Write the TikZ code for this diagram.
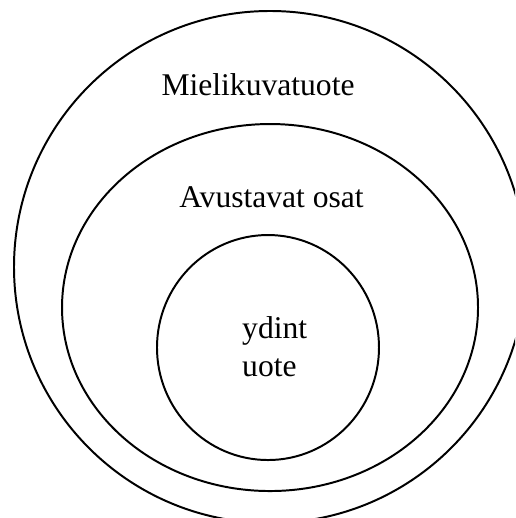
\documentclass[tikz,border=0pt]{standalone}
\usepackage{fontspec}
\setmainfont{Liberation Serif}
\usepackage{tikz}
\usetikzlibrary{positioning}
\tikzset{
	ringline/.style={line width=0.75pt, black}
}
\tikzset{
	ringtext/.style={font=\fontsize{12}{14.6}\selectfont, inner sep=0pt}
}

\begin{document}
\begin{tikzpicture}
      \clip (-3.605,-3.351) rectangle (3.271,3.565);
      % three nested layers of the product
      \draw[ringline] (0,0) circle (3.418);
      \draw[ringline] (0,-0.541) ellipse (2.777 and 2.450);
      \draw[ringline] (-0.027,-1.075) ellipse (1.482 and 1.502);
      % layer names
      \node[ringtext, anchor=base] (mielikuva) at (-0.16,2.296) {Mielikuvatuote};
      \node[ringtext, anchor=base] (avustavat) at (0.02,0.80) {Avustavat osat};
      \node[ringtext, anchor=base west, align=left] (ydin) at (-0.378,-1.464) {ydint\\uote};
    \end{tikzpicture}
\end{document}
